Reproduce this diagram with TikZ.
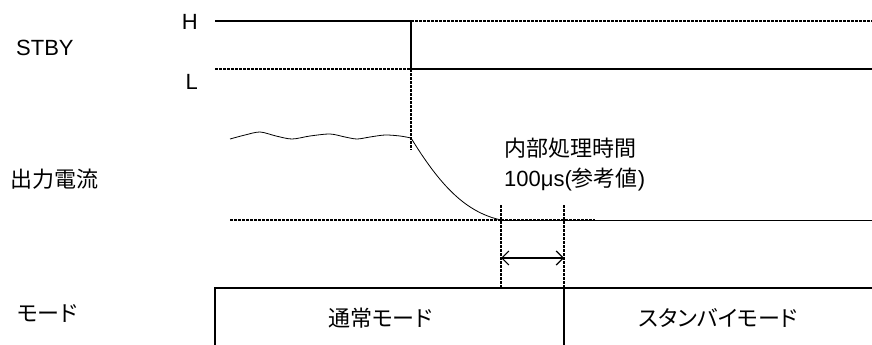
\documentclass[tikz,border=0pt]{standalone}
\usepackage{fontspec}
\setmainfont{Liberation Sans}
\newfontfamily\jpfont[RawFeature=+palt]{Noto Sans CJK JP}
\usetikzlibrary{arrows.meta}
\usetikzlibrary{positioning}

\tikzset{
	sig/.style={line width=2pt},
	thin sig/.style={line width=0.8pt},
	guide/.style={line width=1.2pt, dash pattern=on 2.5pt off 1.5pt},
	lbl/.style={font=\fontsize{22}{26}\selectfont, inner sep=0pt},
	jlbl/.style={font=\fontsize{22}{26}\selectfont\jpfont, inner sep=0pt},
}

\begin{document}
\begin{tikzpicture}[x=1pt,y=-1pt]
	\useasboundingbox (0,0) rectangle (872,345);

		% STBY signal
		\coordinate (hs) at (215,21);
		\coordinate (hf) at (411,21);
		\coordinate (he) at (872,21);
		\coordinate (ls) at (215,69);
		\coordinate (lf) at (411,69);
		\coordinate (le) at (872,69);
		\draw [sig] (hs) -- (hf) -- (lf) -- (le);
		\draw [guide] (hf) -- (he);
		\draw [guide] (ls) -- (lf);

		% output current
		\coordinate (tg) at (411,150);
		\coordinate (ws) at (230,139);
		\coordinate (wf) at (411,138);
		\coordinate (cf) at (501,220);
		\coordinate (zs) at (230,220);
		\coordinate (zd) at (595,220);
		\coordinate (ze) at (872,220);
		\draw [guide] (lf) -- (tg);
		\draw [thin sig] plot [smooth] coordinates {(ws) (245,135) (260,132) (276,136) (292,139)
			(310,136) (330,134) (345,137) (357,139) (370,137) (385,135) (400,136) (wf)};
		\draw [thin sig] (wf) .. controls (440,185) and (465,212) .. (cf);
		\draw [guide] (zs) -- (cf);
		\draw [thin sig] (cf) -- (ze);
		\draw [guide] (cf) -- (zd);

		% processing time
		\coordinate (pa) at (501,205);
		\coordinate (pb) at (564,205);
		\coordinate (pa2) at (501,288);
		\coordinate (pb2) at (564,288);
		\draw [guide] (pa) -- (pa2);
		\draw [guide] (pb) -- (pb2);
		\draw [thin sig, line width=1.2pt, {Straight Barb[length=7pt,width=14pt]}-{Straight Barb[length=7pt,width=14pt]}]
			(501,258) coordinate (aa) -- (564,258) coordinate (ab);

		% mode box
		\coordinate (bl) at (215,345);
		\coordinate (bt) at (215,288);
		\coordinate (br) at (872,288);
		\draw [sig] (bl) -- (bt) -- (br);
		\draw [sig] (pb2) -- (564,345);

		% labels
		\node [lbl, anchor=west] (stby) at (16,48) {STBY};
		\node [lbl, anchor=east] (hlbl) at (198,22) {H};
		\node [lbl, anchor=east] (llbl) at (198,82) {L};
		\node [jlbl, anchor=west] (iout) at (10,179) {出力電流};
		\node [jlbl, anchor=west] (mode) at (17,313) {モード};
		\node [jlbl, anchor=west] (ptime) at (504,148) {内部処理時間};
		\node [lbl, anchor=west] (pval) at (504,180) {100μs({\jpfont 参考値})};
		\node [jlbl] (normal) at (380,318) {通常モード};
		\node [jlbl] (standby) at (718,318) {スタンバイモード};
	\end{tikzpicture}
\end{document}
